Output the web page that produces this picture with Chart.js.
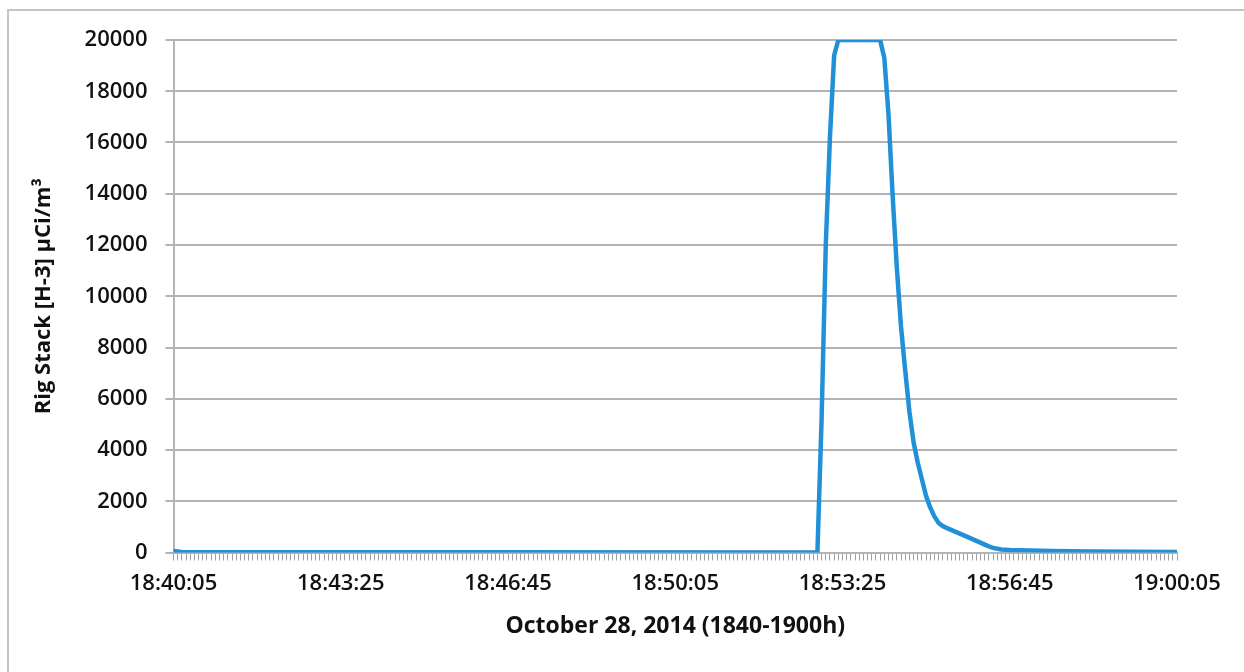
<!DOCTYPE html>
<html>
<head>
<meta charset="utf-8">
<script src="https://cdn.jsdelivr.net/npm/chart.js@4/dist/chart.umd.min.js"></script>
<style>
  html, body { margin: 0; padding: 0; background: #fff; }
  #wrap { position: relative; width: 1244px; height: 672px; overflow: hidden; }
  #frame { position: absolute; left: 7px; top: 9px; width: 1300px; height: 700px;
           border-left: 2px solid #c4c4c4; border-top: 2px solid #c4c4c4; }
  #chart { position: absolute; left: 0; top: 0; }
</style>
</head>
<body>
<div id="wrap">
  <div id="frame"></div>
  <canvas id="chart" width="1244" height="672"></canvas>
</div>
<script>
// tick labels on the time axis, every 3:20
const tickLabels = ['18:40:05', '18:43:25', '18:46:45', '18:50:05', '18:53:25', '18:56:45', '19:00:05'];

// readings, H-3 in µCi/m³ (sampled every 5 s, only the changes kept)
const sampleTimes = [
    '18:40:05', '18:40:15', '18:52:55', '18:53:00', '18:53:05', '18:53:10', '18:53:15', '18:53:20',
    '18:54:10', '18:54:15', '18:54:20', '18:54:25', '18:54:30', '18:54:35', '18:54:40', '18:54:45',
    '18:54:50', '18:54:55', '18:55:00', '18:55:05', '18:55:10', '18:55:15', '18:55:20', '18:55:25',
    '18:55:30', '18:55:55', '18:56:20', '18:56:25', '18:56:35', '18:56:45', '18:57:35', '18:58:25',
    '19:00:05'
];
const rigStack = [
    60, 20, 0, 5200, 12000, 16200, 19400, 20000,
    20000, 19300, 17100, 13900, 11100, 8800, 7100, 5500,
    4300, 3500, 2850, 2200, 1750, 1400, 1150, 1030,
    950, 600, 240, 180, 115, 95, 60, 40,
    20
];

const yTicks = { min: 0, max: 20000, step: 2000 };

function toSec(t) {
    const p = t.split(':').map(Number);
    return p[0] * 3600 + p[1] * 60 + p[2];
}
const t0 = toSec(tickLabels[0]);
const points = sampleTimes.map((t, i) => ({ x: toSec(t) - t0, y: rigStack[i] }));

const gridGray = '#b3b3b3';
const font = '"Open Sans", Lato, sans-serif';

new Chart(document.getElementById('chart'), {
    type: 'line',
    data: {
        datasets: [{
            data: points,
            borderColor: '#2091d9',
            borderWidth: 4.5,
            pointRadius: 0,
            tension: 0,
            borderJoinStyle: 'round',
            borderCapStyle: 'round'
        }]
    },
    options: {
        responsive: false,
        animation: false,
        layout: { padding: { left: 0, top: 40, right: 67, bottom: 0 } },
        plugins: { legend: { display: false }, tooltip: { enabled: false } },
        scales: {
            x: {
                type: 'linear',
                min: 0,
                max: 1200,
                afterFit: s => { s.height = 119.5; },
                grid: { drawOnChartArea: false, drawTicks: true, tickLength: 8, color: '#a0a0a0', lineWidth: 1 },
                border: { color: gridGray, width: 2 },
                ticks: {
                    stepSize: 5,
                    autoSkip: false,
                    maxRotation: 0,
                    minRotation: 0,
                    padding: 10,
                    color: '#111',
                    font: { family: font, size: 22, weight: '600' },
                    callback: v => (v % 200 === 0 ? tickLabels[v / 200] : '')
                },
                title: {
                    display: true,
                    text: 'October 28, 2014 (1840-1900h)',
                    color: '#111',
                    font: { family: font, size: 23, weight: 'bold' },
                    padding: { top: 4, bottom: 32 }
                }
            },
            y: {
                min: yTicks.min,
                max: yTicks.max,
                afterFit: s => { s.width = 173.5; },
                grid: { color: gridGray, lineWidth: 2, tickLength: 8 },
                border: { color: gridGray, width: 2 },
                ticks: {
                    stepSize: yTicks.step,
                    padding: 18,
                    color: '#111',
                    font: { family: font, size: 22, weight: '600' },
                    callback: v => String(v)
                },
                title: {
                    display: true,
                    text: 'Rig Stack [H-3] µCi/m³',
                    color: '#111',
                    font: { family: font, size: 22, weight: 'bold' },
                    padding: { top: 31, bottom: 0 }
                }
            }
        }
    }
});
</script>
</body>
</html>
